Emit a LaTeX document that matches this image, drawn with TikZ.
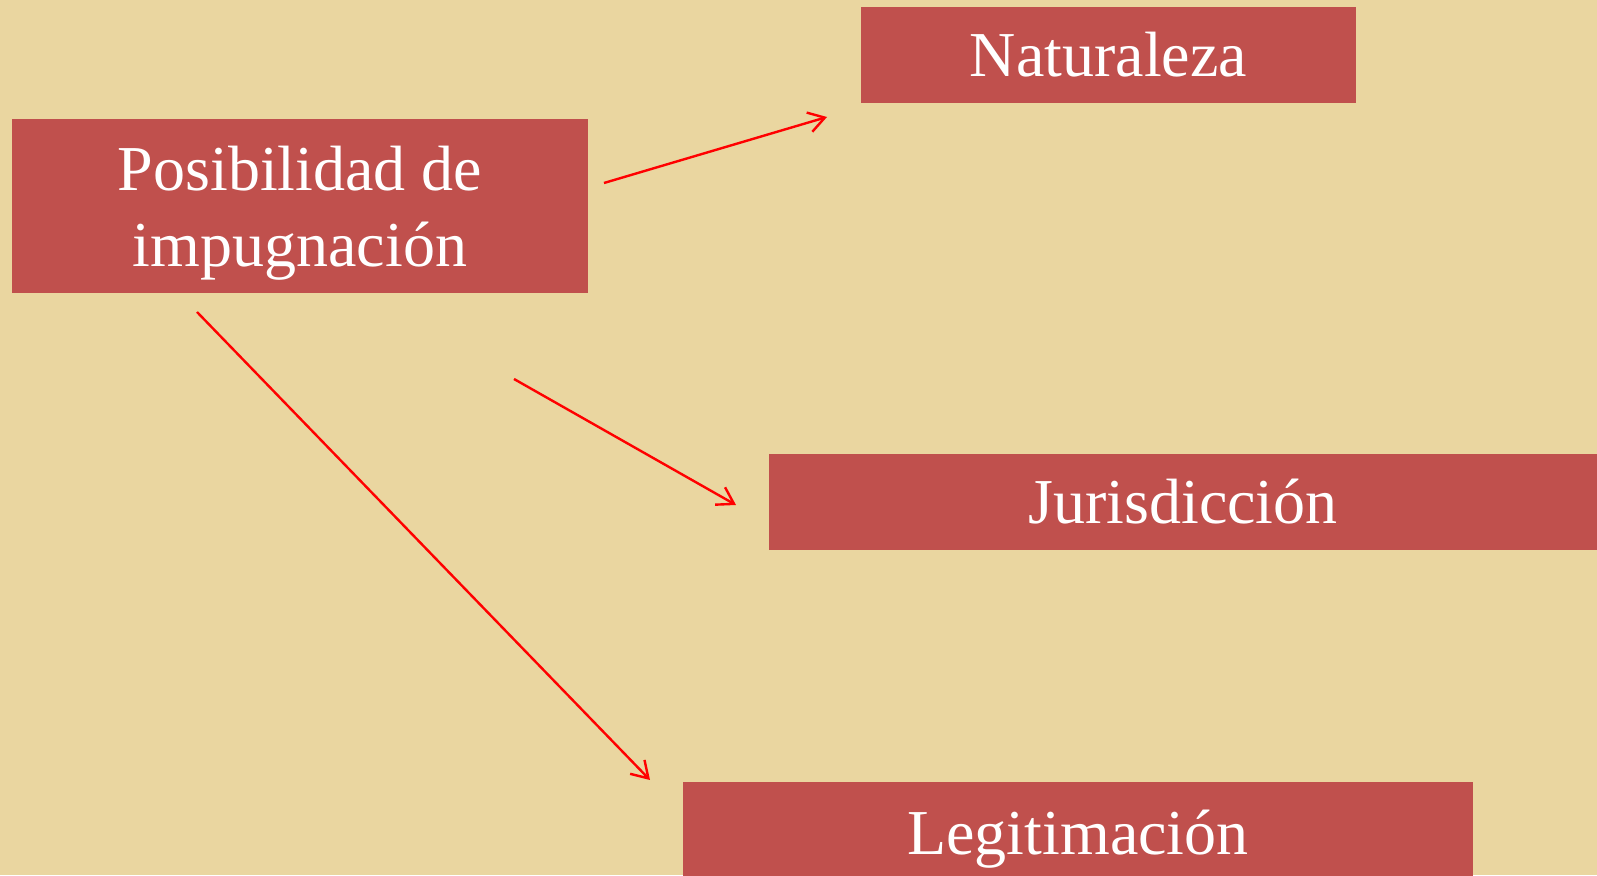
\documentclass[tikz,border=0pt]{standalone}
\usepackage{fontspec}
\setmainfont{Liberation Serif}
\usetikzlibrary{arrows.meta}
\definecolor{papiro}{RGB}{234,214,160}
\definecolor{rojocaja}{RGB}{192,80,77}

\begin{document}
\begin{tikzpicture}[x=1pt,y=1pt,
  caja/.style={fill=rojocaja,text=white,inner sep=0pt,align=center,
    font=\fontsize{64}{76}\selectfont},
  flecha/.style={line width=2.4pt,red,-{Straight Barb[length=16pt,width=20pt]}}]
\fill[papiro] (0,0) rectangle (1597,875);
\useasboundingbox (0,0) rectangle (1597,875);

  \node[caja,minimum width=576pt,minimum height=174pt] (posibilidad) at (300,669) {\rule{0pt}{58pt}Posibilidad de\\impugnación};
  \node[caja,minimum width=495pt,minimum height=96pt] (naturaleza) at (1108.5,820) {Naturaleza};
  \node[caja,minimum width=828pt,minimum height=96pt] (jurisdiccion) at (1183,373) {Jurisdicción};
  \node[caja,minimum width=790pt,minimum height=114pt] (legitimacion) at (1078,36) {Legitimación};

  \coordinate (a1) at (604,692);
  \coordinate (b1) at (827,758);
  \coordinate (a2) at (514,496);
  \coordinate (b2) at (736,370);
  \coordinate (a3) at (197,563);
  \coordinate (b3) at (650,95);

  \draw[flecha] (a1)--(b1);
  \draw[flecha] (a2)--(b2);
  \draw[flecha] (a3)--(b3);

\end{tikzpicture}
\end{document}
